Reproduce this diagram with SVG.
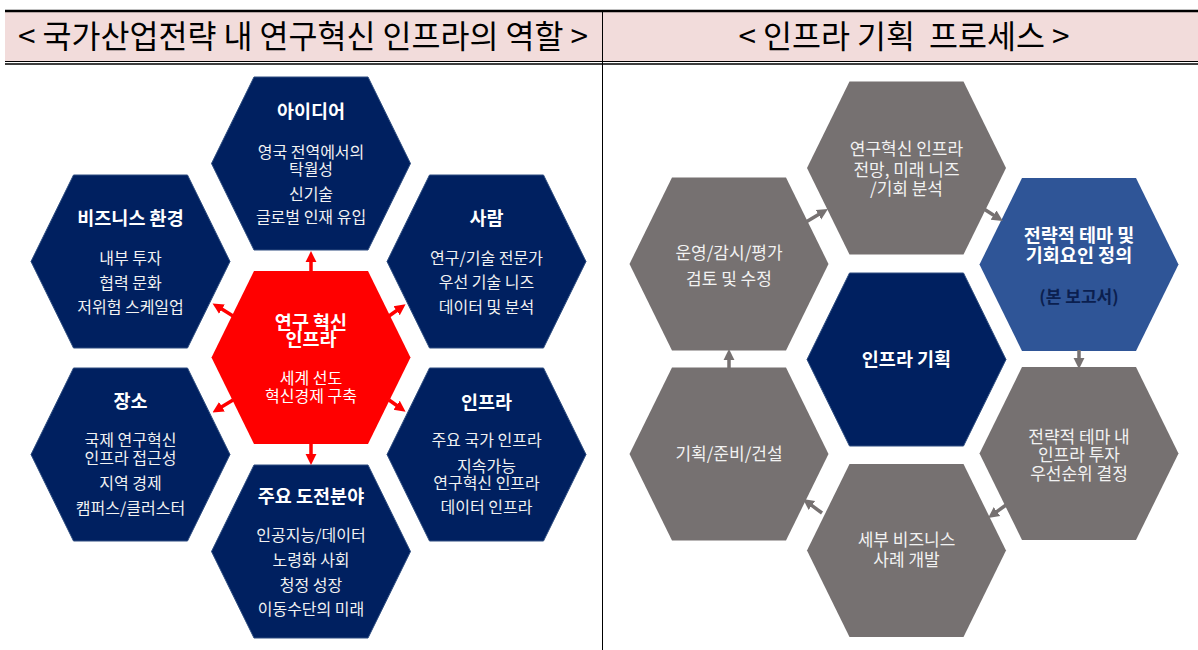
<svg xmlns="http://www.w3.org/2000/svg" width="1198" height="650" viewBox="0 0 1198 650">
<style>
text{font-family:"Noto Sans CJK KR","Noto Sans",sans-serif;text-anchor:middle}
.hd{font-size:31.5px;fill:#000}
.tl{font-size:18.5px;font-weight:bold;fill:#fff}
.bl{font-size:16px;fill:#F2F2F2}
.br{font-size:17px;fill:#F2F2F2}
.navy{fill:#002060;stroke:#2E4D80;stroke-width:1}
.red{fill:#FF0000}
.gray{fill:#767171}
.blue{fill:#2F5597}
.ra{stroke:#FF0000;stroke-width:3.5;fill:none;marker-end:url(#mr)}
.ga{stroke:#767171;stroke-width:3.5;fill:none;marker-end:url(#mg)}
</style>
<defs>
<polygon id="hex" points="-57,-86.5 57,-86.5 99.5,0 57,86.5 -57,86.5 -99.5,0"/>
<marker id="mr" viewBox="0 0 10 10" refX="1" refY="5" markerWidth="11" markerHeight="17" markerUnits="userSpaceOnUse" orient="auto"><path d="M0,0 L10,5 L0,10 z" fill="#FF0000"/></marker>
<marker id="mg" viewBox="0 0 10 10" refX="1" refY="5" markerWidth="11" markerHeight="17" markerUnits="userSpaceOnUse" orient="auto"><path d="M0,0 L10,5 L0,10 z" fill="#767171"/></marker>
</defs>
<rect width="1198" height="650" fill="#fff"/>
<g id="header">
<rect x="5" y="12" width="1193" height="49" fill="#F2DCDB"/>
<line x1="5" y1="11" x2="1198" y2="11" stroke="#000" stroke-width="2.5"/>
<line x1="5" y1="61.5" x2="1198" y2="61.5" stroke="#000" stroke-width="1.2"/>
<line x1="5" y1="64" x2="1198" y2="64" stroke="#000" stroke-width="1.5"/>
<line x1="602.5" y1="10" x2="602.5" y2="650" stroke="#000" stroke-width="1"/>
<text class="hd" x="303" y="48">&lt; 국가산업전략 내 연구혁신 인프라의 역할 &gt;</text>
<text class="hd" x="904" y="48" xml:space="preserve">&lt; 인프라 기획  프로세스 &gt;</text>
</g>
<g id="left-idea">
<use href="#hex" x="311" y="163.5" class="navy"/>
<text class="tl" x="311" y="118.3">아이디어</text>
<text class="bl" x="311" y="158">영국 전역에서의</text>
<text class="bl" x="311" y="175.2">탁월성</text>
<text class="bl" x="311" y="200">신기술</text>
<text class="bl" x="311" y="222.6">글로벌 인재 유입</text>
</g>
<g id="left-business">
<use href="#hex" x="130.5" y="261.5" class="navy"/>
<text class="tl" x="130.5" y="225">비즈니스 환경</text>
<text class="bl" x="130.5" y="264.2">내부 투자</text>
<text class="bl" x="130.5" y="289.2">협력 문화</text>
<text class="bl" x="130.5" y="312.6">저위험 스케일업</text>
</g>
<g id="left-people">
<use href="#hex" x="486.5" y="261.5" class="navy"/>
<text class="tl" x="486.5" y="225">사람</text>
<text class="bl" x="486.5" y="264.2">연구/기술 전문가</text>
<text class="bl" x="486.5" y="288.4">우선 기술 니즈</text>
<text class="bl" x="486.5" y="312.6">데이터 및 분석</text>
</g>
<g id="left-center">
<use href="#hex" x="311" y="357.5" class="red"/>
<text class="tl" x="311" y="328.5">연구 혁신</text>
<text class="tl" x="311" y="346">인프라</text>
<text class="bl" x="311" y="384.2" style="fill:#fff">세계 선도</text>
<text class="bl" x="311" y="401.9" style="fill:#fff">혁신경제 구축</text>
</g>
<g id="left-place">
<use href="#hex" x="130.5" y="454.5" class="navy"/>
<text class="tl" x="130.5" y="407.5">장소</text>
<text class="bl" x="130.5" y="445.9">국제 연구혁신</text>
<text class="bl" x="130.5" y="464.2">인프라 접근성</text>
<text class="bl" x="130.5" y="489.2">지역 경제</text>
<text class="bl" x="130.5" y="514.2">캠퍼스/클러스터</text>
</g>
<g id="left-infra">
<use href="#hex" x="486.5" y="454.5" class="navy"/>
<text class="tl" x="486.5" y="408.5">인프라</text>
<text class="bl" x="486.5" y="445.9">주요 국가 인프라</text>
<text class="bl" x="486.5" y="471.9">지속가능</text>
<text class="bl" x="486.5" y="489.2">연구혁신 인프라</text>
<text class="bl" x="486.5" y="512.6">데이터 인프라</text>
</g>
<g id="left-challenge">
<use href="#hex" x="311" y="551.5" class="navy"/>
<text class="tl" x="311" y="502.8">주요 도전분야</text>
<text class="bl" x="311" y="540.9">인공지능/데이터</text>
<text class="bl" x="311" y="565.9">노령화 사회</text>
<text class="bl" x="311" y="590.9">청정 성장</text>
<text class="bl" x="311" y="615.2">이동수단의 미래</text>
</g>
<g id="right-outlook">
<use href="#hex" x="906.5" y="168" class="gray"/>
<text class="br" x="906.5" y="154.6">연구혁신 인프라</text>
<text class="br" x="906.5" y="175.6">전망, 미래 니즈</text>
<text class="br" x="906.5" y="194.6">/기회 분석</text>
</g>
<g id="right-operate">
<use href="#hex" x="729" y="264" class="gray"/>
<text class="br" x="729" y="259">운영/감시/평가</text>
<text class="br" x="729" y="284.6">검토 및 수정</text>
</g>
<g id="right-theme">
<use href="#hex" x="1079" y="264.5" class="blue"/>
<text class="tl" x="1079" y="241.8">전략적 테마 및</text>
<text class="tl" x="1079" y="261.8">기회요인 정의</text>
<text class="tl" x="1079" y="303" style="font-size:17px;fill:#0B1F4F">(본 보고서)</text>
</g>
<g id="right-center">
<use href="#hex" x="906.5" y="359.5" class="navy"/>
<text class="tl" x="906.5" y="365.8">인프라 기획</text>
</g>
<g id="right-build">
<use href="#hex" x="729" y="454" class="gray"/>
<text class="br" x="729" y="459.6">기획/준비/건설</text>
</g>
<g id="right-priority">
<use href="#hex" x="1079" y="453.5" class="gray"/>
<text class="br" x="1079" y="443">전략적 테마 내</text>
<text class="br" x="1079" y="461.3">인프라 투자</text>
<text class="br" x="1079" y="480.3">우선순위 결정</text>
</g>
<g id="right-business">
<use href="#hex" x="906.5" y="550.5" class="gray"/>
<text class="br" x="906.5" y="546.3">세부 비즈니스</text>
<text class="br" x="906.5" y="566.3">사례 개발</text>
</g>
<g id="connectors">
<line class="ra" x1="311" y1="272" x2="311" y2="261"/>
<line class="ra" x1="311" y1="443" x2="311" y2="455"/>
<line class="ra" x1="233" y1="316" x2="221" y2="308.6"/>
<line class="ra" x1="389" y1="316" x2="397.5" y2="310"/>
<line class="ra" x1="233" y1="400" x2="221" y2="407.3"/>
<line class="ra" x1="389" y1="400" x2="397.5" y2="406"/>
<line class="ga" x1="806" y1="222" x2="819.4" y2="214.1"/>
<line class="ga" x1="984" y1="209" x2="994.5" y2="215.7"/>
<line class="ga" x1="1079" y1="350" x2="1079" y2="359"/>
<line class="ga" x1="1006" y1="505" x2="996.1" y2="512.2"/>
<line class="ga" x1="822" y1="513" x2="811" y2="504.9"/>
<line class="ga" x1="729" y1="369" x2="729" y2="359"/>
</g>
</svg>
